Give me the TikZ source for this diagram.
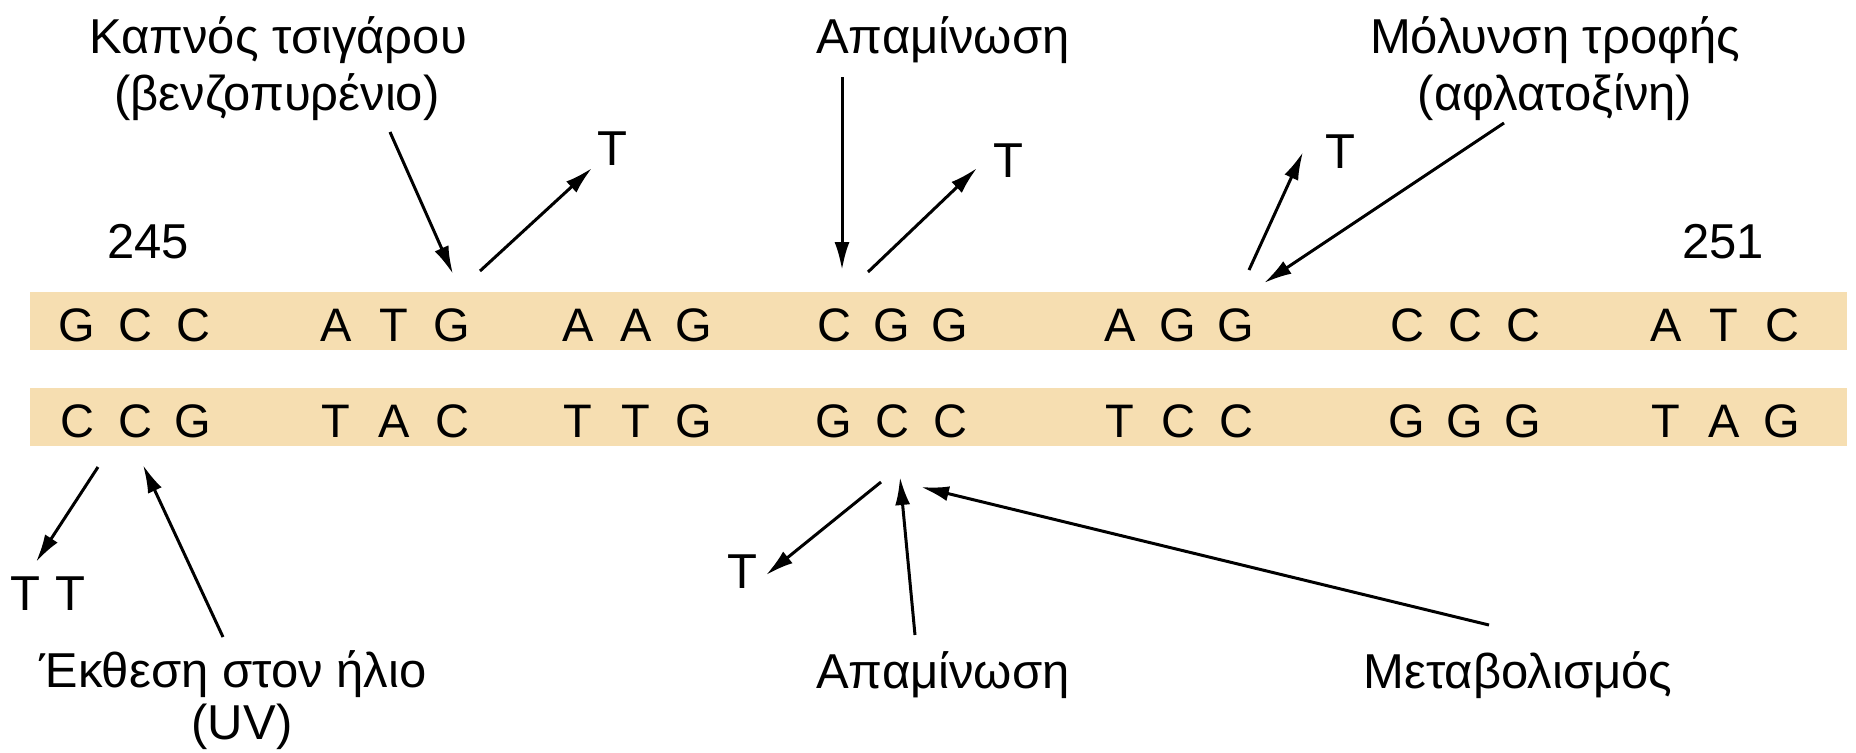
\documentclass[tikz,border=0pt]{standalone}
\usepackage{fontspec}
\setmainfont{Liberation Sans}
\usetikzlibrary{arrows.meta}
\definecolor{band}{RGB}{246,222,177}
\begin{document}
\begin{tikzpicture}[x=0.5pt,y=-0.5pt,
  lbl/.style={inner sep=0pt, anchor=base, font=\fontsize{24.5}{28}\selectfont},
  nuc/.style={inner sep=0pt, anchor=base, font=\fontsize{23.5}{27}\selectfont},
  arr/.style={line width=1.5pt, -{Latex[length=14pt,width=7.5pt]}}]
\useasboundingbox (0,0) rectangle (1856,752);
% strands
\fill[band] (30,292) rectangle (1847,350);
\fill[band] (30,388) rectangle (1847,446);
% nucleotides
\foreach \cx/\a/\b/\c/\d/\e/\f [count=\i] in
  {135/G/C/C/C/C/G, 394/A/T/G/T/A/C, 636/A/A/G/T/T/G, 892/C/G/G/G/C/C,
   1178/A/G/G/T/C/C, 1465/C/C/C/G/G/G, 1724/A/T/C/T/A/G}{
  \node[nuc] (u\i-1) at (\cx-58,341) {\a};
  \node[nuc] (u\i-2) at (\cx,341) {\b};
  \node[nuc] (u\i-3) at (\cx+58,341) {\c};
  \node[nuc] (l\i-1) at (\cx-58,437) {\d};
  \node[nuc] (l\i-2) at (\cx,437) {\e};
  \node[nuc] (l\i-3) at (\cx+58,437) {\f};
}
% labels top
\node[lbl] (smoke1) at (278,53) {Καπνός τσιγάρου};
\node[lbl] (smoke2) at (277,110) {(βενζοπυρένιο)};
\node[lbl] (deam1) at (943,53) {Απαμίνωση};
\node[lbl] (food1) at (1555,53) {Μόλυνση τροφής};
\node[lbl] (food2) at (1555,110) {(αφλατοξίνη)};
\node[lbl] (n245) at (148,258) {245};
\node[lbl] (n251) at (1723,258) {251};
\node[lbl] (t1) at (612,165) {T};
\node[lbl] (t2) at (1008,177) {T};
\node[lbl] (t3) at (1340,168) {T};
% labels bottom
\node[lbl] (tt) at (48,610) {T\hspace{0.3em}T};
\node[lbl] (sun1) at (233,687) {Έκθεση στον ήλιο};
\node[lbl] (sun2) at (242,739) {(UV)};
\node[lbl] (t4) at (742,588) {T};
\node[lbl] (deam2) at (943,688) {Απαμίνωση};
\node[lbl] (metab) at (1518,688) {Μεταβολισμός};
% arrow end points
\coordinate (a1s) at (390,132); \coordinate (a1e) at (453,274);
\coordinate (a2s) at (480,271); \coordinate (a2e) at (592,168);
\coordinate (a3s) at (842,77);  \coordinate (a3e) at (842,270);
\coordinate (a4s) at (868,272); \coordinate (a4e) at (977,168);
\coordinate (a5s) at (1249,270); \coordinate (a5e) at (1303,152);
\coordinate (a6s) at (1504,123); \coordinate (a6e) at (1264,283);
\coordinate (b1s) at (98,467);  \coordinate (b1e) at (36,562);
\coordinate (b2s) at (223,637); \coordinate (b2e) at (143,465);
\coordinate (b3s) at (881,482); \coordinate (b3e) at (766,575);
\coordinate (b4s) at (915,635); \coordinate (b4e) at (900,477);
\coordinate (b5s) at (1489,625); \coordinate (b5e) at (921,487);
\foreach \p in {a1,a2,a3,a4,a5,a6,b1,b2,b3,b4,b5}
  \draw[arr] (\p s) -- (\p e);
\end{tikzpicture}
\end{document}
